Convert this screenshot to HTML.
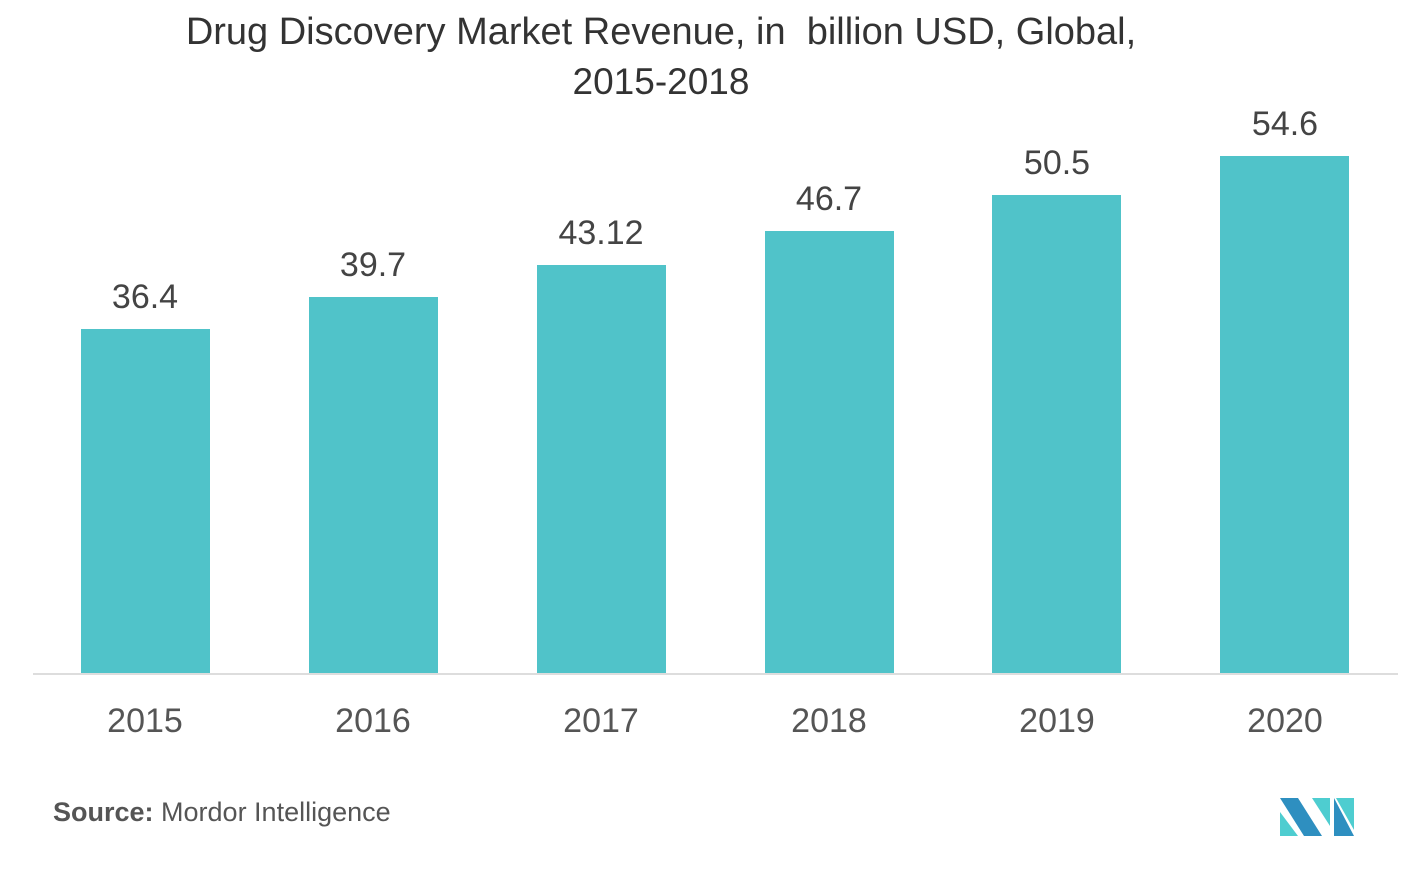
<!DOCTYPE html>
<html><head><style>
body{margin:0;background:#fff;width:1419px;height:871px;position:relative;overflow:hidden;font-family:"Liberation Sans",sans-serif;}
.t{position:absolute;left:0;width:1322px;text-align:center;font-size:37px;color:#333;}
.bar{position:absolute;background:#50c3c9;width:129px;}
.v{position:absolute;width:200px;text-align:center;font-size:34px;color:#444;}
.y{position:absolute;width:200px;text-align:center;font-size:34px;color:#555;top:702px;}
</style></head><body>
<div class="t" style="top:11px;font-size:38px">Drug Discovery Market Revenue, in&nbsp; billion USD, Global,</div>
<div class="t" style="top:61px">2015-2018</div>
<div style="position:absolute;left:33px;top:673px;width:1365px;height:2px;background:#ddd"></div>

<div class="bar" style="left:81px;top:329px;height:344px"></div>
<div class="bar" style="left:309px;top:297px;height:376px"></div>
<div class="bar" style="left:537px;top:265px;height:408px"></div>
<div class="bar" style="left:765px;top:231px;height:442px"></div>
<div class="bar" style="left:992px;top:195px;height:478px"></div>
<div class="bar" style="left:1220px;top:156px;height:517px"></div>

<div class="v" style="left:45px;top:278px">36.4</div>
<div class="v" style="left:273px;top:246px">39.7</div>
<div class="v" style="left:501px;top:214px">43.12</div>
<div class="v" style="left:729px;top:180px">46.7</div>
<div class="v" style="left:957px;top:144px">50.5</div>
<div class="v" style="left:1185px;top:105px">54.6</div>

<div class="y" style="left:45px">2015</div>
<div class="y" style="left:273px">2016</div>
<div class="y" style="left:501px">2017</div>
<div class="y" style="left:729px">2018</div>
<div class="y" style="left:957px">2019</div>
<div class="y" style="left:1185px">2020</div>

<div style="position:absolute;left:53px;top:797px;font-size:27px;color:#555"><b>Source:</b> Mordor Intelligence</div>
<svg style="position:absolute;left:1280px;top:798px" width="75" height="40">
<polygon points="0,14 0,38 18,38" fill="#4ecdd0"/>
<polygon points="0,0 18,0 42,38 24,38" fill="#2e8fc0"/>
<polygon points="32,0 50,0 50,28" fill="#4ecdd0"/>
<polygon points="54,0 54,38 74,38" fill="#2e8fc0"/>
<polygon points="56,0 74,0 74,32" fill="#4ecdd0"/>
</svg>
</body></html>
